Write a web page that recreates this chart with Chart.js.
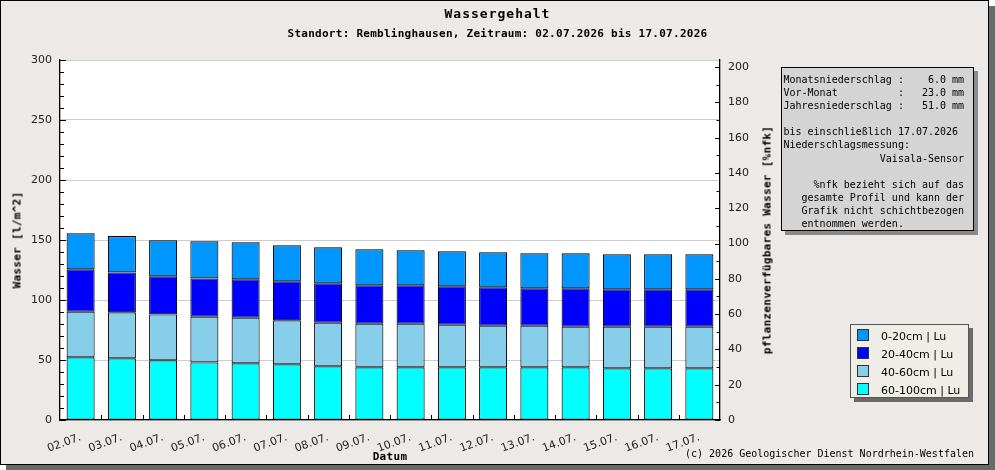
<!DOCTYPE html>
<html>
<head>
<meta charset="utf-8">
<script src="https://cdn.jsdelivr.net/npm/chart.js@4/dist/chart.umd.min.js"></script>
<style>
  html, body { margin: 0; padding: 0; background: #fff; }
  #wrap { position: relative; width: 995px; height: 470px; overflow: hidden; }
  #frame {
    position: absolute; left: 0; top: 0; width: 989px; height: 465px;
    box-sizing: border-box; border: 1.5px solid #000; background: #ece9e7;
    box-shadow: 6px 6px 0 #6a6a6a;
  }
  #chart { position: absolute; left: 0; top: 0; }
  .mono { font-family: "DejaVu Sans Mono", monospace; color: #000; position: absolute; white-space: pre; }
  .bold { font-weight: bold; }
  #title { left: 0; width: 995px; text-align: center; top: 6px; font-size: 13px; letter-spacing: 1px; }
  #subtitle { left: 0; width: 995px; text-align: center; top: 27px; font-size: 11px; letter-spacing: 0.26px; }
  .ytitle { font-size: 11px; letter-spacing: 0.3px; transform: translate(-50%, -50%) rotate(-90deg); }
  #xtitle { font-size: 11px; letter-spacing: 0.3px; transform: translate(-50%, -50%); left: 390px; top: 456px; }
  #info {
    left: 781px; top: 67px; width: 193px; height: 164px; box-sizing: border-box;
    background: #d4d4d4; border: 1px solid #000; box-shadow: 4px 4px 0 #8a8a8a;
    font-size: 10px; line-height: 13.1px; padding: 5px 0 0 1.5px;
  }
  #legend {
    position: absolute; left: 850px; top: 324px; width: 119px; height: 74px; box-sizing: border-box;
    background: #efeee6; border: 1px solid #555; box-shadow: 4px 4px 0 #6a6a6a;
    font-family: "DejaVu Sans", sans-serif; font-size: 11px; color: #000;
  }
  .leg-row { position: absolute; left: 6px; height: 18px; line-height: 18px; }
  .leg-box { display: inline-block; width: 10px; height: 10px; border: 1px solid #333; vertical-align: -1px; margin-right: 12px; }
  #footer { right: 21px; top: 448px; font-size: 10px; }
</style>
</head>
<body>
<div id="wrap">
  <div id="frame"></div>
  <canvas id="chart" width="995" height="470"></canvas>
  <div id="title" class="mono bold">Wassergehalt</div>
  <div id="subtitle" class="mono bold">Standort: Remblinghausen, Zeitraum: 02.07.2026 bis 17.07.2026</div>
  <div class="mono bold ytitle" style="left:17px; top:240px;">Wasser [l/m^2]</div>
  <div class="mono bold ytitle" style="left:767px; top:240px;">pflanzenverfügbares Wasser [%nfk]</div>
  <div id="xtitle" class="mono bold">Datum</div>
  <div id="info" class="mono"></div>
  <div id="legend"></div>
  <div id="footer" class="mono">(c) 2026 Geologischer Dienst Nordrhein-Westfalen</div>
</div>
<script>
      /* -------------------------------------------------------
       DATA: daily water content per soil layer [l/m^2]
    ------------------------------------------------------- */
      const labels = [
        "02.07.", "03.07.", "04.07.", "05.07.", "06.07.", "07.07.", "08.07.", "09.07.",
        "10.07.", "11.07.", "12.07.", "13.07.", "14.07.", "15.07.", "16.07.", "17.07.",
      ];
      const layer0to20 = [30.0, 30.3, 30.0, 30.9, 30.9, 30.0, 30.0, 30.0, 29.2, 29.2, 29.1, 29.2, 29.2, 29.2, 29.2, 29.2];
      const layer20to40 = [35.3, 33.3, 31.7, 31.9, 31.9, 32.5, 32.8, 31.9, 31.9, 32.0, 32.0, 31.1, 31.9, 31.1, 31.1, 31.1];
      const layer40to60 = [38.1, 38.3, 38.3, 38.1, 38.1, 36.7, 36.4, 36.4, 36.4, 35.5, 34.7, 34.7, 33.9, 34.7, 34.7, 34.7];
      const layer60to100 = [52.2, 51.4, 49.7, 48.0, 47.2, 46.4, 44.7, 43.9, 43.9, 43.9, 43.9, 43.9, 43.9, 43.1, 43.1, 43.1];

      const layerNames = ["0-20cm | Lu", "20-40cm | Lu", "40-60cm | Lu", "60-100cm | Lu"];
      const layerColors = ["#0096ff", "#0000ff", "#87ceeb", "#00ffff"];

      /* right axis (%nfk) tick values */
      const nfkTicks = [0, 20, 40, 60, 80, 100, 120, 140, 160, 180, 200];

      /* -------------------------------------------------------
       DATA: precipitation info box
    ------------------------------------------------------- */
      const infoLines = [
        "Monatsniederschlag :    6.0 mm",
        "Vor-Monat          :   23.0 mm",
        "Jahresniederschlag :   51.0 mm",
        "",
        "bis einschließlich 17.07.2026",
        "Niederschlagsmessung:",
        "                Vaisala-Sensor",
        "",
        "     %nfk bezieht sich auf das",
        "   gesamte Profil und kann der",
        "   Grafik nicht schichtbezogen",
        "   entnommen werden.",
      ];

      Chart.defaults.font.family = "'DejaVu Sans', sans-serif";
      Chart.defaults.font.size = 11;
      Chart.defaults.color = "#222";

      /* white plot area */
      const plotBg = {
        id: "plotBg",
        beforeDraw(chart) {
          const { ctx, chartArea: a } = chart;
          ctx.save();
          ctx.fillStyle = "#fff";
          ctx.fillRect(a.left, a.top, a.right - a.left, a.bottom - a.top);
          ctx.restore();
        },
      };

      /* inward tick marks on all three axes */
      const tickMarks = {
        id: "tickMarks",
        afterDraw(chart) {
          const { ctx, chartArea: a, scales } = chart;
          ctx.save();
          ctx.strokeStyle = "#000";
          ctx.lineWidth = 1;
          ctx.beginPath();
          for (let v = 0; v <= 300; v += 10) {
            const py = Math.round(scales.y.getPixelForValue(v)) + 0.5;
            ctx.moveTo(a.left, py);
            ctx.lineTo(a.left + (v % 50 === 0 ? 6 : 4), py);
          }
          for (let v = 0; v <= 200; v += 10) {
            const py = Math.round(scales.y1.getPixelForValue(v)) + 0.5;
            ctx.moveTo(a.right, py);
            ctx.lineTo(a.right - (v % 20 === 0 ? 5 : 3.5), py);
          }
          for (let i = 1; i < labels.length; i++) {
            const px = Math.round((scales.x.getPixelForValue(i - 1) + scales.x.getPixelForValue(i)) / 2) + 0.5;
            ctx.moveTo(px, a.bottom);
            ctx.lineTo(px, a.bottom - 5);
          }
          ctx.stroke();
          ctx.restore();
        },
      };

      const stacks = [layer60to100, layer40to60, layer20to40, layer0to20];
      const stackIdx = [3, 2, 1, 0];

      new Chart(document.getElementById("chart"), {
        type: "bar",
        data: {
          labels: labels,
          datasets: stacks.map((d, k) => ({
            label: layerNames[stackIdx[k]],
            data: d,
            backgroundColor: layerColors[stackIdx[k]],
            borderColor: "#000",
            borderWidth: 1.1,
            borderSkipped: false,
            barPercentage: 0.68,
            categoryPercentage: 1,
          })),
        },
        options: {
          responsive: false,
          animation: false,
          layout: { padding: { top: 60, bottom: 0, left: 0, right: 0 } },
          plugins: { legend: { display: false }, tooltip: { enabled: false } },
          scales: {
            x: {
              stacked: true,
              grid: { display: false },
              border: { color: "#000", width: 1.3 },
              ticks: { maxRotation: 20, minRotation: 20, padding: 3, autoSkip: false, color: "#222" },
              afterFit: (s) => { s.height = 50; },
            },
            y: {
              stacked: true,
              min: 0,
              max: 300,
              ticks: { stepSize: 50, padding: 8, color: "#222" },
              grid: { color: "#cccccc", drawTicks: false, lineWidth: 1 },
              border: { color: "#000", width: 1.3 },
              afterFit: (s) => { s.width = 60; },
            },
            y1: {
              position: "right",
              min: 0,
              max: 204,
              ticks: { padding: 8, color: "#222" },
              afterBuildTicks: (s) => { s.ticks = nfkTicks.map((v) => ({ value: v })); },
              grid: { drawOnChartArea: false, drawTicks: false },
              border: { color: "#000", width: 1.3 },
              afterFit: (s) => { s.width = 275; },
            },
          },
        },
        plugins: [plotBg, tickMarks],
      });

      /* -------------------------------------------------------
       INFO BOX + LEGEND (HTML)
    ------------------------------------------------------- */
      document.getElementById("info").textContent = infoLines.join("\n");

      const legend = document.getElementById("legend");
      layerNames.forEach((name, i) => {
        const row = document.createElement("div");
        row.className = "leg-row";
        row.style.top = 3 + i * 18 + "px";
        row.innerHTML = `<span class="leg-box" style="background:${layerColors[i]}"></span>${name}`;
        legend.appendChild(row);
      });
</script>
</body>
</html>
